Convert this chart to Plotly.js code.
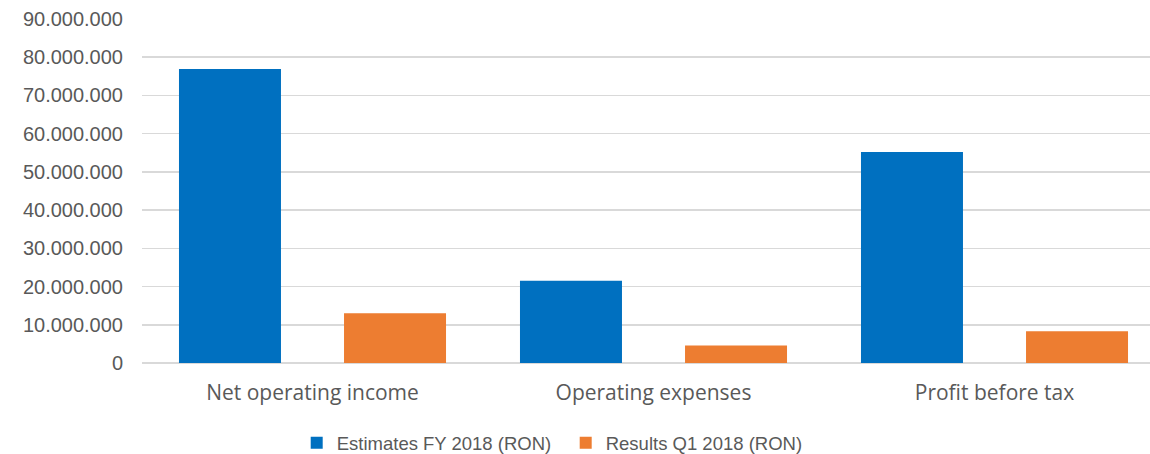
<!DOCTYPE html>
<html>
<head>
<meta charset="utf-8">
<script src="https://cdn.plot.ly/plotly-3.0.1.min.js"></script>
<style>html,body{margin:0;padding:0;background:#fff;}#chart{width:1150px;height:454px;}</style>
</head>
<body>
<div id="chart"></div>
<script>
var categories = ["Net operating income", "Operating expenses", "Profit before tax"];
var seriesNames = ["Estimates FY 2018 (RON)", "Results Q1 2018 (RON)"];
var estimatesFY2018 = [76900000, 21500000, 55200000];
var resultsQ12018 = [13000000, 4600000, 8300000];
var yTickValues = [0, 10000000, 20000000, 30000000, 40000000, 50000000, 60000000, 70000000, 80000000, 90000000];

var traces = [
  {type: "bar", name: seriesNames[0], x: categories, y: estimatesFY2018,
   marker: {color: "#0070C0", line: {width: 0}}, hoverinfo: "x+y"},
  {type: "bar", name: seriesNames[1], x: categories, y: resultsQ12018,
   marker: {color: "#ED7D31", line: {width: 0}}, hoverinfo: "x+y"}
];

var layout = {
  width: 1150, height: 454,
  margin: {l: 142, r: 0, t: 19, b: 91, pad: 0},
  paper_bgcolor: "#ffffff", plot_bgcolor: "#ffffff",
  separators: ",.",
  barmode: "group",
  bargap: 0.032,
  bargroupgap: 0.382,
  showlegend: true,
  xaxis: {
    type: "category",
    range: [-0.5, 2.456],
    showgrid: false, zeroline: false, showline: false, ticks: "",
    tickfont: {family: "Open Sans, sans-serif", size: 21, color: "#595959"},
    ticklabelstandoff: 15
  },
  yaxis: {
    range: [0, 90000000],
    tickvals: yTickValues,
    tickformat: ",d",
    showgrid: true, gridcolor: "#D9D9D9", gridwidth: 1.5,
    zeroline: true, zerolinecolor: "#D9D9D9", zerolinewidth: 1.5,
    showline: false, ticks: "",
    tickfont: {family: "Liberation Sans, Arial, sans-serif", size: 20, color: "#595959"},
    ticklabelstandoff: 18
  },
  legend: {
    orientation: "h",
    xref: "container", yref: "container",
    x: 0.258, xanchor: "left",
    y: 0.024, yanchor: "middle",
    font: {family: "Liberation Sans, Arial, sans-serif", size: 18.5, color: "#595959"},
    bgcolor: "rgba(0,0,0,0)",
    entrywidth: 224, entrywidthmode: "pixels",
    traceorder: "normal"
  }
};

Plotly.newPlot("chart", traces, layout, {displayModeBar: false, staticPlot: true});
</script>
</body>
</html>
